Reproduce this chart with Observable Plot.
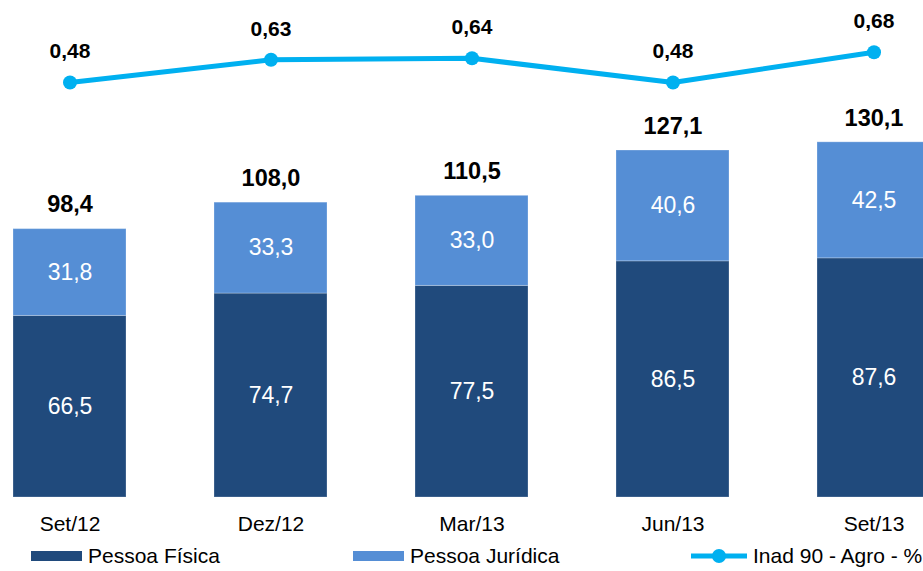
<!DOCTYPE html>
<html>
<head>
<meta charset="utf-8">
<script src="https://cdn.jsdelivr.net/npm/d3@7"></script>
<script src="https://cdn.jsdelivr.net/npm/@observablehq/plot@0.6"></script>
<style>
  body { margin: 0; background: #fff; font-family: "Liberation Sans", Arial, sans-serif; }
  #wrap { position: relative; width: 923px; height: 571px; overflow: hidden; }
  #legend { position: absolute; left: 0; top: 540px; width: 923px; height: 31px; }
  .lg { position: absolute; top: 0; height: 31px; display: flex; align-items: center; font-size: 21px; color: #000; white-space: nowrap; }
  .sw { display: inline-block; width: 51px; height: 10px; margin-right: 6px; }
</style>
</head>
<body>
<div id="wrap"><div id="chart"></div>
<div id="legend"></div></div>
<script>
const categories = ["Set/12", "Dez/12", "Mar/13", "Jun/13", "Set/13"];
const pessoaFisica = [66.5, 74.7, 77.5, 86.5, 87.6];
const pessoaJuridica = [31.8, 33.3, 33.0, 40.6, 42.5];
const totals = [98.4, 108.0, 110.5, 127.1, 130.1];
const inad = [0.48, 0.63, 0.64, 0.48, 0.68];

const seriesNames = ["Pessoa Física", "Pessoa Jurídica", "Inad 90 - Agro - %"];
const colors = { "Pessoa Física": "#204a7c", "Pessoa Jurídica": "#558ed5", "Inad 90 - Agro - %": "#00b0f0" };

const fmt = (v, d) => v.toFixed(d).replace(".", ",");

const stacked = [];
categories.forEach((c, i) => {
  stacked.push({ cat: c, serie: "Pessoa Física", value: pessoaFisica[i] });
  stacked.push({ cat: c, serie: "Pessoa Jurídica", value: pessoaJuridica[i] });
});
const totalData = categories.map((c, i) => ({ cat: c, total: totals[i] }));
const lineData = categories.map((c, i) => ({ cat: c, inad: inad[i] }));

// secondary scale: maps inadimplência % onto the bar value axis
const inadScale = d3.scaleLinear().domain([0.4, 0.7]).range([147.6, 164.2]);

const font = "Liberation Sans, Arial, sans-serif";

const chart = Plot.plot({
  width: 923,
  height: 540,
  marginTop: 0,
  marginBottom: 43,
  marginLeft: 0,
  marginRight: 0,
  style: { fontFamily: font, background: "transparent", overflow: "visible" },
  x: { type: "band", domain: categories, range: [-32.5, 975.5], paddingInner: 0.438, paddingOuter: 0.219, align: 0.5, label: null },
  y: { domain: [0, 100], range: [497, 224], axis: null },
  color: { domain: seriesNames, range: seriesNames.map(s => colors[s]) },
  marks: [
    Plot.barY(stacked, Plot.stackY({ x: "cat", y: "value", fill: "serie", order: seriesNames, stroke: "white", strokeOpacity: 0.25, strokeWidth: 1 })),
    Plot.text(stacked, Plot.stackY({ x: "cat", y: "value", z: "serie", order: seriesNames, text: d => fmt(d.value, 1), fill: "white", fontSize: 23, fontFamily: font })),
    Plot.text(totalData, { x: "cat", y: "total", text: d => fmt(d.total, 1), dy: -24, fontSize: 23.5, fontWeight: "bold", fill: "black", fontFamily: font }),
    Plot.line(lineData, { x: "cat", y: d => inadScale(d.inad), stroke: colors["Inad 90 - Agro - %"], strokeWidth: 5 }),
    Plot.dot(lineData, { x: "cat", y: d => inadScale(d.inad), r: 7, fill: colors["Inad 90 - Agro - %"], stroke: "none" }),
    Plot.text(lineData, { x: "cat", y: d => inadScale(d.inad), text: d => fmt(d.inad, 2), dy: -31, fontSize: 21, fontWeight: "bold", fill: "black", fontFamily: font }),
    Plot.axisX({ tickSize: 0, tickPadding: 19, fontSize: 21, label: null, fill: "black" })
  ]
});
document.getElementById("chart").appendChild(chart);

// legend
const legend = document.getElementById("legend");
const legendPos = [31, 353, 691];
seriesNames.forEach((s, i) => {
  const item = document.createElement("div");
  item.className = "lg";
  item.style.left = legendPos[i] + "px";
  if (i < 2) {
    item.innerHTML = `<span class="sw" style="background:${colors[s]}"></span>${s}`;
  } else {
    item.innerHTML = `<svg width="56" height="16" style="margin-right:6px"><line x1="0" x2="56" y1="8" y2="8" stroke="${colors[s]}" stroke-width="5"/><circle cx="28" cy="8" r="7" fill="${colors[s]}"/></svg>${s}`;
  }
  legend.appendChild(item);
});
</script>
</body>
</html>
